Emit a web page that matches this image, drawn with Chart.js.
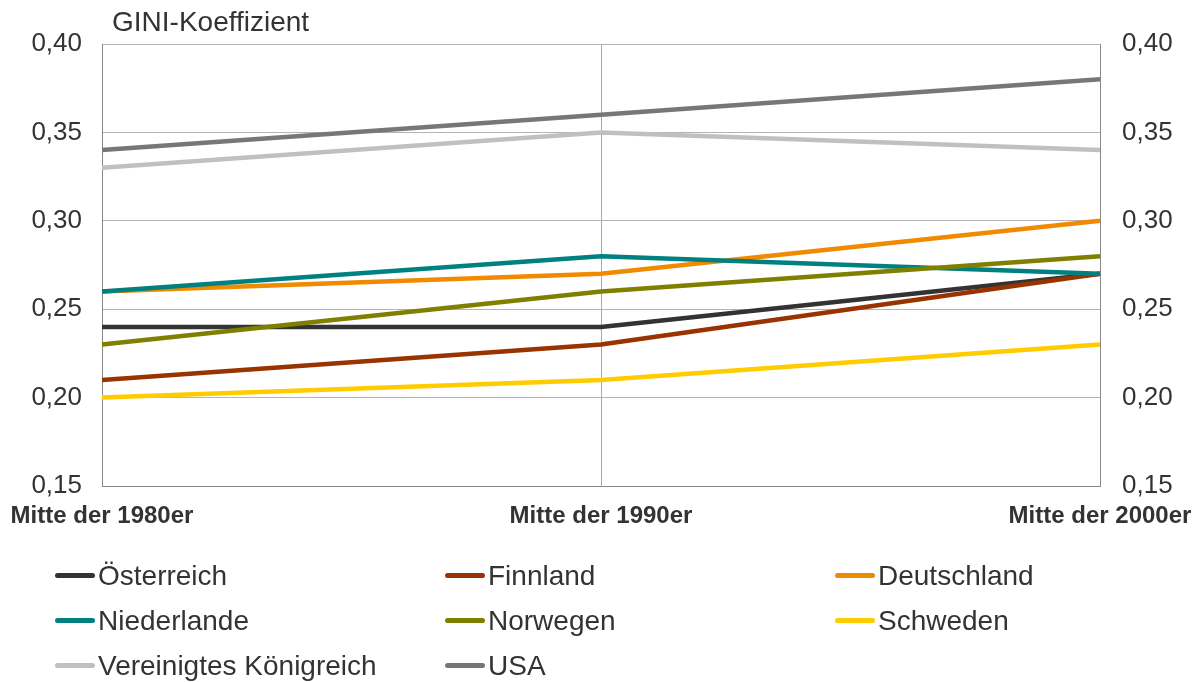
<!DOCTYPE html>
<html>
<head>
<meta charset="utf-8">
<script src="https://cdn.jsdelivr.net/npm/chart.js@4/dist/chart.umd.min.js"></script>
<style>
  html, body { margin: 0; padding: 0; background: #fff; }
  #wrap { position: relative; width: 1202px; height: 682px; font-family: Arial, "Liberation Sans", sans-serif; color: #333; }
  #chart { position: absolute; left: 0; top: 0; }
  #ytitle { position: absolute; left: 112px; top: 6px; font-size: 28px; line-height: 31px; }
  #legend { position: absolute; left: 55px; top: 559px; width: 1150px; }
  .item { position: absolute; font-size: 28px; height: 34px; line-height: 34px; white-space: nowrap; }
  .item i { display: inline-block; width: 40px; height: 5px; border-radius: 3px; vertical-align: middle; margin-right: 3px; position: relative; top: -2px; }
</style>
</head>
<body>
<div id="wrap">
  <canvas id="chart" width="1202" height="682"></canvas>
  <div id="ytitle">GINI-Koeffizient</div>
  <div id="legend"></div>
</div>
<script>
// Zeitpunkte und Werte je Land
const perioden = ['Mitte der 1980er', 'Mitte der 1990er', 'Mitte der 2000er'];
const laender = ['Österreich', 'Finnland', 'Deutschland', 'Niederlande', 'Norwegen', 'Schweden', 'Vereinigtes Königreich', 'USA'];
const farben = ['#333333', '#993300', '#F08A00', '#008080', '#808000', '#FFCC00', '#C0C0C0', '#777777'];

const oesterreich = [0.24, 0.24, 0.27];
const finnland = [0.21, 0.23, 0.27];
const deutschland = [0.26, 0.27, 0.30];
const niederlande = [0.26, 0.28, 0.27];
const norwegen = [0.23, 0.26, 0.28];
const schweden = [0.20, 0.21, 0.23];
const vk = [0.33, 0.35, 0.34];
const usa = [0.34, 0.36, 0.38];
const werte = [oesterreich, finnland, deutschland, niederlande, norwegen, schweden, vk, usa];

const yTicks = [0.15, 0.20, 0.25, 0.30, 0.35, 0.40];

const fmt = v => v.toFixed(2).replace('.', ',');

const datasets = laender.map((name, i) => ({
    label: name,
    data: werte[i],
    borderColor: farben[i],
    backgroundColor: farben[i],
    borderWidth: 4.5,
    pointRadius: 0,
    tension: 0,
    order: laender.length - i
}));

const schrift = 'Arial, "Liberation Sans", sans-serif';
const tickFont = { family: schrift, size: 26 };

new Chart(document.getElementById('chart').getContext('2d'), {
    type: 'line',
    data: { labels: perioden, datasets: datasets },
    options: {
        responsive: false,
        animation: false,
        layout: { padding: { top: 44, left: 0, right: 0, bottom: 0 } },
        plugins: { legend: { display: false }, tooltip: { enabled: false } },
        scales: {
            x: {
                offset: false,
                grid: {
                    drawTicks: false,
                    color: ctx => ctx.index === 1 ? '#a8a8a8' : 'rgba(0,0,0,0)',
                    lineWidth: 1
                },
                border: { color: '#888', width: 1 },
                ticks: {
                    color: '#333',
                    font: { family: schrift, size: 24, weight: 'bold' },
                    padding: 16,
                    maxRotation: 0,
                    autoSkip: false
                },
                afterFit: s => {
                    s.height = 196;
                    s.paddingLeft = 0;
                    s.paddingRight = 0;
                }
            },
            y: {
                position: 'left',
                min: 0.15,
                max: 0.40,
                afterBuildTicks: s => { s.ticks = yTicks.map(v => ({ value: v })); },
                grid: { drawTicks: false, color: '#b4b4b4', lineWidth: 1 },
                border: { color: '#888', width: 1 },
                ticks: { color: '#333', font: tickFont, padding: 20, callback: fmt },
                afterFit: s => { s.width = 102; }
            },
            y2: {
                position: 'right',
                min: 0.15,
                max: 0.40,
                afterBuildTicks: s => { s.ticks = yTicks.map(v => ({ value: v })); },
                grid: { display: false, drawTicks: false },
                border: { color: '#888', width: 1 },
                ticks: { color: '#333', font: tickFont, padding: 22, callback: fmt },
                afterFit: s => { s.width = 102; }
            }
        }
    }
});

// Legende in drei Spalten
const legend = document.getElementById('legend');
const spalten = [0, 390, 780];
laender.forEach((name, i) => {
    const el = document.createElement('div');
    el.className = 'item';
    el.style.left = spalten[i % 3] + 'px';
    el.style.top = (Math.floor(i / 3) * 45) + 'px';
    el.innerHTML = '<i style="background:' + farben[i] + '"></i>' + name;
    legend.appendChild(el);
});
</script>
</body>
</html>
